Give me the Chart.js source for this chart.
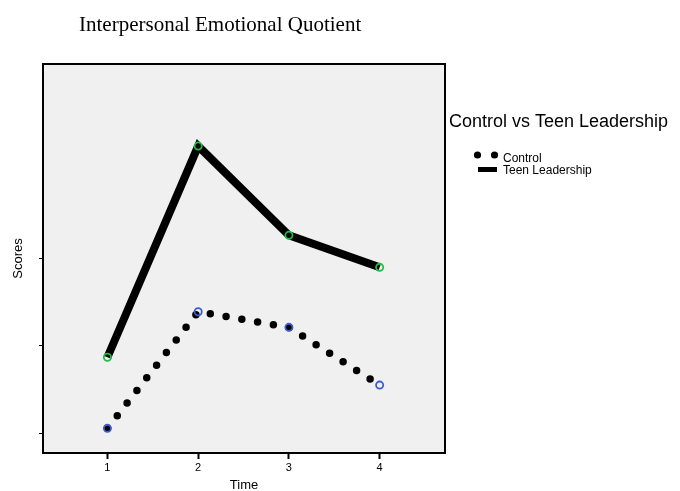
<!DOCTYPE html>
<html>
<head>
<meta charset="utf-8">
<script src="https://cdn.jsdelivr.net/npm/chart.js@4"></script>
<style>
  html, body { margin: 0; padding: 0; background: #fff; }
  #wrap { width: 680px; height: 491px; position: relative; }
</style>
</head>
<body>
<div id="wrap"><canvas id="chart"></canvas></div>
<script>
var timePoints = [1, 2, 3, 4];
var controlScores = [95.27, 101.93, 101.04, 97.74];
var teenScores = [99.33, 111.4, 106.3, 104.47];
var xTicks = [1, 2, 3, 4];
var yTicks = [95, 100, 105];

function toPoints(values) {
  return values.map(function (v, i) {
    return { x: timePoints[i], y: v };
  });
}

// grey plot background, black frame, title and legend
var framePlugin = {
  id: "frame",
  beforeDatasetsDraw: function (chart) {
    var a = chart.chartArea;
    var ctx = chart.ctx;
    ctx.save();
    ctx.fillStyle = "#f0f0f0";
    ctx.fillRect(a.left, a.top, a.right - a.left, a.bottom - a.top);
    ctx.restore();
  },
  afterDraw: function (chart) {
    var a = chart.chartArea;
    var ctx = chart.ctx;
    ctx.save();
    ctx.strokeStyle = "#000";
    ctx.lineWidth = 2;
    ctx.strokeRect(a.left, a.top, a.right - a.left, a.bottom - a.top);

    ctx.fillStyle = "#000";
    ctx.font = "21px 'Liberation Serif', 'Times New Roman', serif";
    ctx.textBaseline = "alphabetic";
    ctx.textAlign = "left";
    ctx.fillText("Interpersonal Emotional Quotient", 79, 31);

    ctx.font = "18px 'Liberation Sans', Arial, sans-serif";
    ctx.fillText("Control vs Teen Leadership", 449, 127);
    ctx.font = "12px 'Liberation Sans', Arial, sans-serif";
    ctx.fillText("Control", 503, 162);
    ctx.fillText("Teen Leadership", 503, 174);
    ctx.beginPath();
    ctx.arc(477.5, 155, 3.6, 0, Math.PI * 2);
    ctx.fill();
    ctx.beginPath();
    ctx.arc(494.5, 155, 3.6, 0, Math.PI * 2);
    ctx.fill();
    ctx.fillRect(478, 167, 19, 5);
    ctx.restore();
  }
};

var ctx = document.getElementById("chart").getContext("2d");
var chart = new Chart(ctx, {
  type: "line",
  data: {
    datasets: [
      {
        label: "Teen Leadership",
        data: toPoints(teenScores),
        borderColor: "#000",
        borderWidth: 8,
        tension: 0,
        pointRadius: 3.6,
        pointBorderWidth: 1.8,
        pointBorderColor: "#22bb44",
        pointBackgroundColor: "rgba(0,0,0,0)"
      },
      {
        label: "Control",
        data: toPoints(controlScores),
        borderColor: "#000",
        borderWidth: 7.5,
        borderDash: [0, 16],
        borderCapStyle: "round",
        tension: 0,
        pointRadius: 3.6,
        pointBorderWidth: 1.8,
        pointBorderColor: "#3a5fcd",
        pointBackgroundColor: "rgba(0,0,0,0)"
      }
    ]
  },
  options: {
    responsive: true,
    maintainAspectRatio: false,
    animation: false,
    layout: { padding: { top: 64, right: 235, left: 0, bottom: 0 } },
    plugins: {
      legend: { display: false },
      tooltip: { enabled: false }
    },
    scales: {
      x: {
        type: "linear",
        min: 0.29,
        max: 4.72,
        afterBuildTicks: function (scale) {
          scale.ticks = xTicks.map(function (v) { return { value: v }; });
        },
        afterFit: function (scale) { scale.height = 38; },
        border: { display: false },
        grid: { drawOnChartArea: false, drawTicks: true, tickLength: 6, tickWidth: 2, tickColor: "#000" },
        ticks: {
          padding: 2,
          color: "#000",
          maxRotation: 0,
          font: { family: "'Liberation Sans', Arial, sans-serif", size: 11 }
        },
        title: {
          display: true,
          text: "Time",
          color: "#000",
          padding: { top: 0, bottom: -2 },
          font: { family: "'Liberation Sans', Arial, sans-serif", size: 13 }
        }
      },
      y: {
        type: "linear",
        min: 93.86,
        max: 116.09,
        afterBuildTicks: function (scale) {
          scale.ticks = yTicks.map(function (v) { return { value: v }; });
        },
        afterFit: function (scale) { scale.width = 43; },
        border: { display: false },
        grid: { drawOnChartArea: false, drawTicks: true, tickLength: 4, tickWidth: 1, tickColor: "#000" },
        ticks: { display: false },
        title: {
          display: true,
          text: "Scores",
          color: "#000",
          padding: { top: 11, bottom: 0 },
          font: { family: "'Liberation Sans', Arial, sans-serif", size: 13 }
        }
      }
    }
  },
  plugins: [framePlugin]
});
</script>
</body>
</html>
